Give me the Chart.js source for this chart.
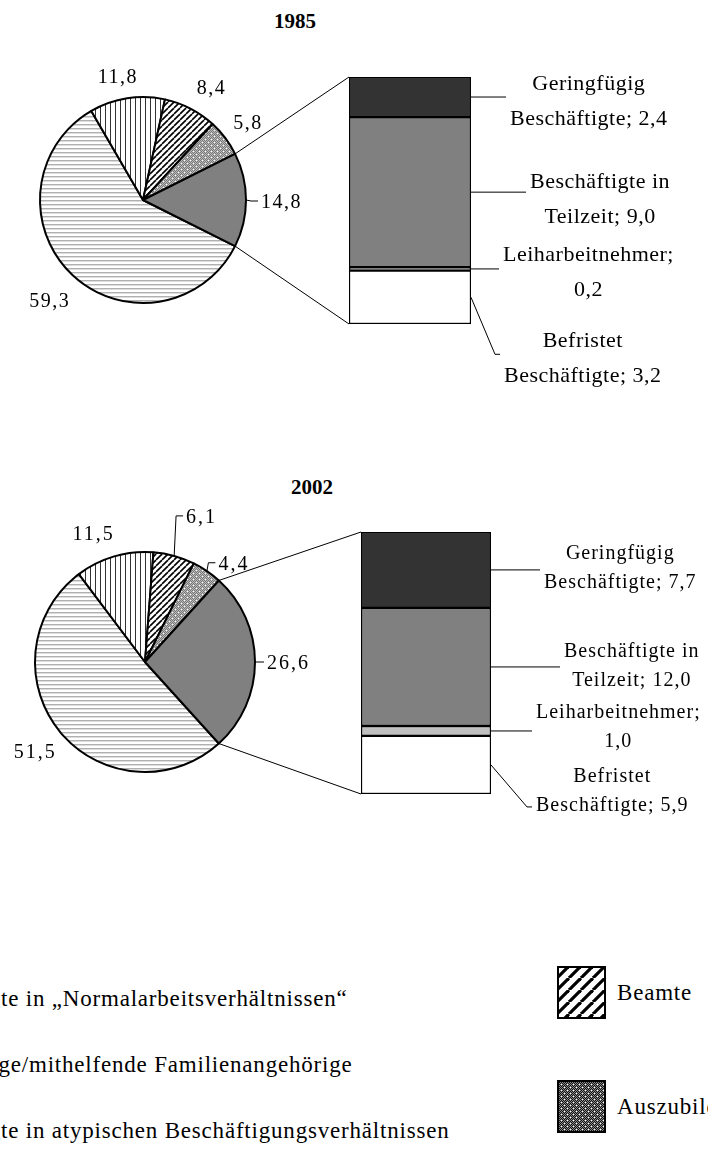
<!DOCTYPE html>
<html lang="de">
<head>
<meta charset="utf-8">
<title>Erwerbstätige 1985 und 2002</title>
<script src="https://cdn.jsdelivr.net/npm/chart.js@4.4.1/dist/chart.umd.min.js"></script>
<style>
  html, body { margin: 0; padding: 0; background: #fff; }
  body { width: 708px; height: 1164px; position: relative; overflow: hidden;
         font-family: "Liberation Serif", "DejaVu Serif", serif; color: #000; }
  .panel { position: absolute; left: 0; width: 708px; }
  .panel canvas { position: absolute; left: 0; top: 0; }
  .title { position: absolute; font-weight: bold; font-size: 21px; transform: translate(-50%, -50%); }
  .leg { position: absolute; font-size: 23px; letter-spacing: 0.8px; white-space: nowrap;
         transform: translateY(-50%); line-height: 1; }
  .sw { position: absolute; }
</style>
</head>
<body>
<div class="title" style="left:295px;top:21px">1985</div>
<div class="title" style="left:312px;top:487px">2002</div>

<div class="panel" style="top:0;height:440px">
  <canvas id="pie1985" width="708" height="440"></canvas>
  <canvas id="bar1985" width="708" height="440"></canvas>
</div>
<div class="panel" style="top:440px;height:460px">
  <canvas id="pie2002" width="708" height="460"></canvas>
  <canvas id="bar2002" width="708" height="460"></canvas>
</div>
<div id="legend"></div>

<script>
// Anteile an allen Erwerbstätigen (%)
const pieLabels = ['Beschäftigte in „Normalarbeitsverhältnissen“', 'Selbständige/mithelfende Familienangehörige',
  'Beamte', 'Auszubildende', 'Beschäftigte in atypischen Beschäftigungsverhältnissen'];
const pie1985 = [59.3, 11.8, 8.4, 5.8, 14.8];
const pie2002 = [51.5, 11.5, 6.1, 4.4, 26.6];

// atypische Beschäftigung, von unten nach oben
const barLabels = ['Befristet Beschäftigte', 'Leiharbeitnehmer', 'Beschäftigte in Teilzeit', 'Geringfügig Beschäftigte'];
const barLabelLines = [['Befristet', 'Beschäftigte'], ['Leiharbeitnehmer'], ['Beschäftigte in', 'Teilzeit'], ['Geringfügig', 'Beschäftigte']];
const bar1985 = [3.2, 0.2, 9.0, 2.4];
const bar2002 = [5.9, 1.0, 12.0, 7.7];

const barColors = ['#ffffff', '#c0c0c0', '#808080', '#333333'];
const pieKinds = ['hlines', 'vlines', 'diag', 'dots', 'grey'];

const fmt = v => v.toFixed(1).replace('.', ',');

function labelLines(nameLines, v) {
  if (nameLines.length > 1) return [nameLines[0], nameLines[1] + '; ' + fmt(v)];
  return [nameLines[0] + ';', fmt(v)];
}

function makePattern(kind, s) {
  s = s || 1;
  const c = document.createElement('canvas');
  const x = c.getContext('2d');
  if (kind === 'hlines') {
    c.width = 4; c.height = 4;
    x.fillStyle = '#fff'; x.fillRect(0, 0, 4, 4);
    x.fillStyle = '#b0b0b0'; x.fillRect(0, 0, 4, 1);
    x.fillStyle = '#dcdcdc'; x.fillRect(0, 1, 4, 1);
  } else if (kind === 'vlines') {
    c.width = 5; c.height = 5;
    x.fillStyle = '#fff'; x.fillRect(0, 0, 5, 5);
    x.fillStyle = '#333'; x.fillRect(0, 0, 1, 5);
  } else if (kind === 'diag') {
    const n = 6 * s;
    c.width = n; c.height = n;
    x.fillStyle = '#fff'; x.fillRect(0, 0, n, n);
    x.strokeStyle = '#000'; x.lineWidth = 1.6 * s;
    for (const o of [-n, 0, n]) {
      x.beginPath(); x.moveTo(o, n); x.lineTo(o + n, 0); x.stroke();
    }
  } else if (kind === 'dots' || kind === 'dotsDark') {
    c.width = 6; c.height = 6;
    const dark = kind === 'dots' ? '#777' : '#111';
    const light = kind === 'dots' ? '#bbb' : '#8a8a8a';
    for (let i = 0; i < 6; i++) {
      for (let j = 0; j < 6; j++) {
        x.fillStyle = (i + j) % 2 === 0 ? dark : light;
        x.fillRect(i, j, 1, 1);
      }
    }
    x.fillStyle = '#fff';
    x.fillRect(1, 1, 1, 1); x.fillRect(4, 4, 1, 1);
  } else {
    return '#808080';
  }
  return x.createPattern(c, 'repeat');
}

const layout = {
  1985: {
    height: 440,
    pie: { cx: 143, cy: 200, r: 103 },
    bar: { left: 349, right: 471, top: 77, bottom: 324 },
    pieFont: '20px "Liberation Serif"', pieSpacing: '1.5px',
    pieNudge: [[5, 7], [-3, 6], [5, 4], [-5, 2], [-5, 3]],
    pieLeader: [false, false, false, false, true],
    barFont: '22px "Liberation Serif"', barSpacing: '0.5px', lineH: 35,
    barLeader: [[[24, 57], [29, 57]], [[28, 0]], [[55, 0]], [[35, 0]]],
    barTextDy: [4, 4, 8, 5]
  },
  2002: {
    height: 460,
    pie: { cx: 145, cy: 222, r: 110 },
    bar: { left: 361, right: 491, top: 92, bottom: 354 },
    pieFont: '20px "Liberation Serif"', pieSpacing: '2px',
    pieNudge: [[7, 3], [-9, 4], [18, -12], [7, 16], [-8, 2]],
    pieLeader: [false, false, true, true, true],
    barFont: '20px "Liberation Serif"', barSpacing: '1px', lineH: 29,
    barLeader: [[[36, 42], [41, 42]], [[41, 0]], [[69, 0]], [[49, 0]]],
    barTextDy: [-16, -4, -1, -2]
  }
};

function drawYear(year, pieValues, barValues) {
  const cfg = layout[year];
  const W = 708, H = cfg.height;
  const p = cfg.pie, b = cfg.bar;
  const total = pieValues.reduce((a, c) => a + c, 0);
  // atypischer Sektor liegt mittig auf 3 Uhr
  const rotation = 90 + pieValues[4] / total * 180;

  const pieLabelPlugin = {
    id: 'pieLabels',
    afterDraw(chart) {
      const ctx = chart.ctx;
      const arcs = chart.getDatasetMeta(0).data;
      ctx.save();
      ctx.font = cfg.pieFont;
      ctx.letterSpacing = cfg.pieSpacing;
      ctx.fillStyle = '#000';
      ctx.strokeStyle = '#000';
      ctx.lineWidth = 1;
      ctx.textAlign = 'center';
      ctx.textBaseline = 'middle';
      arcs.forEach((arc, i) => {
        const text = fmt(pieValues[i]);
        const mid = (arc.startAngle + arc.endAngle) / 2;
        const w = ctx.measureText(text).width;
        const h = 14;
        const ax = arc.x + Math.cos(mid) * (arc.outerRadius + 20);
        const ay = arc.y + Math.sin(mid) * (arc.outerRadius + 20);
        const tx = ax + Math.cos(mid) * w / 2 + cfg.pieNudge[i][0];
        const ty = ay + Math.sin(mid) * h / 2 + cfg.pieNudge[i][1];
        if (cfg.pieLeader[i]) {
          const ex = arc.x + Math.cos(mid) * arc.outerRadius;
          const ey = arc.y + Math.sin(mid) * arc.outerRadius;
          const left = tx - w / 2;
          ctx.beginPath();
          ctx.moveTo(ex, ey);
          ctx.lineTo(left - 10, ty - 2);
          ctx.lineTo(left - 3, ty - 2);
          ctx.stroke();
        }
        ctx.fillText(text, tx, ty);
      });
      ctx.restore();
    }
  };

  const pieChart = new Chart(document.getElementById('pie' + year), {
    type: 'pie',
    data: {
      labels: pieLabels,
      datasets: [{
        data: pieValues,
        backgroundColor: pieKinds.map(k => makePattern(k)),
        borderColor: '#000',
        borderWidth: 2,
        radius: p.r
      }]
    },
    options: {
      responsive: false,
      animation: false,
      devicePixelRatio: 1,
      events: [],
      rotation: rotation,
      layout: {
        padding: { left: p.cx - p.r - 2, right: W - p.cx - p.r - 2, top: p.cy - p.r - 2, bottom: H - p.cy - p.r - 2 }
      },
      plugins: { legend: { display: false }, tooltip: { enabled: false } }
    },
    plugins: [pieLabelPlugin]
  });

  const barLabelPlugin = {
    id: 'barLabels',
    afterDraw(chart) {
      const ctx = chart.ctx;
      ctx.save();
      ctx.font = cfg.barFont;
      ctx.letterSpacing = cfg.barSpacing;
      ctx.fillStyle = '#000';
      ctx.strokeStyle = '#000';
      ctx.lineWidth = 1;
      ctx.textAlign = 'center';
      ctx.textBaseline = 'middle';
      chart.data.datasets.forEach((ds, i) => {
        const el = chart.getDatasetMeta(i).data[0];
        const right = el.x + el.width / 2;
        const mid = (el.y + el.base) / 2;
        const pts = cfg.barLeader[i].map(q => [right + q[0], mid + q[1]]);
        ctx.beginPath();
        ctx.moveTo(right, mid);
        pts.forEach(q => ctx.lineTo(q[0], q[1]));
        ctx.stroke();
        const end = pts[pts.length - 1];
        const lines = labelLines(barLabelLines[i], ds.data[0]);
        const maxW = Math.max(...lines.map(l => ctx.measureText(l).width));
        const cx = end[0] + 4 + maxW / 2;
        const cy = end[1] + cfg.barTextDy[i];
        lines.forEach((l, k) => ctx.fillText(l, cx, cy + (k - (lines.length - 1) / 2) * cfg.lineH));
      });

      // Verbindungslinien vom atypischen Sektor zur Säule
      const arc = pieChart.getDatasetMeta(0).data[4];
      const topEl = chart.getDatasetMeta(chart.data.datasets.length - 1).data[0];
      const botEl = chart.getDatasetMeta(0).data[0];
      ctx.beginPath();
      ctx.moveTo(arc.x + Math.cos(arc.startAngle) * arc.outerRadius, arc.y + Math.sin(arc.startAngle) * arc.outerRadius);
      ctx.lineTo(topEl.x - topEl.width / 2, topEl.y);
      ctx.moveTo(arc.x + Math.cos(arc.endAngle) * arc.outerRadius, arc.y + Math.sin(arc.endAngle) * arc.outerRadius);
      ctx.lineTo(botEl.x - botEl.width / 2, botEl.base);
      ctx.stroke();
      ctx.restore();
    }
  };

  const barTotal = barValues.reduce((a, c) => a + c, 0);

  new Chart(document.getElementById('bar' + year), {
    type: 'bar',
    data: {
      labels: [String(year)],
      datasets: barLabels.map((name, i) => ({
        label: name,
        data: [barValues[i]],
        backgroundColor: barColors[i],
        borderColor: '#000',
        borderWidth: 1.5,
        borderSkipped: false,
        barPercentage: 1,
        categoryPercentage: 1
      }))
    },
    options: {
      responsive: false,
      animation: false,
      devicePixelRatio: 1,
      events: [],
      layout: { padding: { left: b.left, right: W - b.right, top: b.top, bottom: H - b.bottom } },
      scales: {
        x: { stacked: true, display: false },
        y: { stacked: true, display: false, min: 0, max: barTotal }
      },
      plugins: { legend: { display: false }, tooltip: { enabled: false } }
    },
    plugins: [barLabelPlugin]
  });
}

drawYear(1985, pie1985, bar1985);
drawYear(2002, pie2002, bar2002);

// Legende (linke Spalte ist im Bild links abgeschnitten)
const legend = document.getElementById('legend');
const leftItems = [0, 1, 4];
const leftRowsY = [998, 1064, 1130];
const rightItems = [2, 3];
const rightRowsY = [992, 1106];
const rightKinds = ['diag', 'dotsDark'];

const probe = document.createElement('span');
probe.className = 'leg';
probe.style.visibility = 'hidden';
probe.textContent = 'Beschäftig';
legend.appendChild(probe);
const hiddenW = probe.getBoundingClientRect().width;
legend.removeChild(probe);

leftItems.forEach((idx, k) => {
  const d = document.createElement('div');
  d.className = 'leg';
  d.style.left = (1 - hiddenW) + 'px';
  d.style.top = leftRowsY[k] + 'px';
  d.textContent = pieLabels[idx];
  legend.appendChild(d);
});

rightItems.forEach((idx, k) => {
  const c = document.createElement('canvas');
  c.className = 'sw';
  c.width = 49; c.height = 53;
  c.style.left = '557px';
  c.style.top = (rightRowsY[k] - 26) + 'px';
  const x = c.getContext('2d');
  x.fillStyle = makePattern(rightKinds[k], 2);
  x.fillRect(0, 0, 49, 53);
  x.strokeStyle = '#000';
  x.lineWidth = 2;
  x.strokeRect(1, 1, 47, 51);
  legend.appendChild(c);

  const d = document.createElement('div');
  d.className = 'leg';
  d.style.left = '617px';
  d.style.top = rightRowsY[k] + 'px';
  d.textContent = pieLabels[idx];
  legend.appendChild(d);
});
</script>
</body>
</html>
